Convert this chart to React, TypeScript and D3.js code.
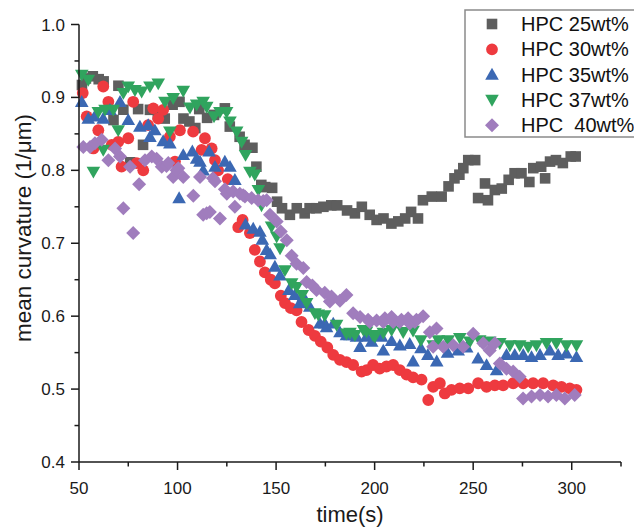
import React from "react";
import * as d3 from "d3";

type P = [number, number];

const hpc25: P[] = [
  [51.5,.917],[53.5,.926],[57,.929],[60,.925],[62.5,.922],[67.5,.869],[70,.916],[72.5,.883],[76,.811],[80,.884],
  [82.5,.835],[86,.883],[90,.876],[93.5,.871],[97.5,.890],[101,.894],[103,.871],[106,.867],[109,.858],[111,.884],
  [115,.872],[118.5,.876],[124,.885],[126.5,.860],[131.5,.846],[134,.835],[138,.831],[140,.805],[142.5,.780],[144.5,.777],
  [148,.776],[150.5,.757],[153,.748],[157,.739],[160.5,.748],[164.5,.741],[167,.748],[170.5,.748],[174,.750],[178,.752],
  [181,.752],[186,.745],[190,.741],[193.5,.750],[197.5,.739],[201,.732],[204.5,.734],[208.5,.727],[212,.730],[215.5,.734],
  [218.5,.743],[222,.734],[224.5,.759],[229,.764],[234,.764],[237.5,.778],[240.5,.789],[243,.794],[245,.803],[247.5,.814],
  [251,.814],[252.5,.762],[256,.782],[257.5,.759],[261,.773],[264.5,.775],[268,.787],[271,.796],[274.5,.796],[278.5,.784],
  [280.5,.803],[284.5,.805],[286.5,.789],[289,.812],[292,.814],[295.5,.810],[299.5,.819],[302,.819],
];

const hpc30: P[] = [
  [51.9,.906],[53.9,.874],[57.3,.830],[59.8,.855],[62.3,.915],[64.9,.894],[66.6,.835],[69.9,.839],[71.6,.805],[75,.844],
  [77.5,.894],[79.3,.810],[82.6,.800],[85.1,.862],[87.7,.885],[90.2,.871],[92.7,.883],[96.1,.846],[98.7,.812],[101.2,.855],
  [107.9,.853],[112.2,.828],[113.9,.844],[117.3,.830],[119,.814],[120.6,.800],[125.5,.788],[130.8,.722],[133,.732],[136.7,.714],
  [139.2,.691],[141.8,.675],[144.3,.660],[147.3,.650],[149.4,.645],[152.4,.628],[154.5,.618],[157.5,.611],[160.4,.608],[162.9,.592],
  [166.5,.581],[169.7,.573],[172.7,.565],[176,.557],[179,.547],[182.4,.540],[185.7,.537],[189.1,.533],[193.4,.524],[195.9,.526],
  [199.2,.533],[202.6,.528],[206,.531],[209.4,.533],[212.8,.526],[216.2,.520],[219.5,.516],[223.8,.513],[227.2,.485],[229.7,.503],
  [233.1,.508],[235.6,.494],[239,.499],[243.2,.501],[247.5,.501],[252.5,.508],[256.8,.503],[261,.505],[265.2,.505],[270.3,.508],
  [275.4,.508],[280.4,.508],[285.5,.508],[290.6,.505],[294.8,.503],[299,.501],[302.4,.499],
];

const hpc35: P[] = [
  [51.4,.894],[54.7,.871],[58,.874],[62.3,.871],[65.7,.883],[70.8,.894],[75,.869],[80.9,.860],[85.1,.862],[86,.846],
  [88.5,.855],[92.7,.840],[96.1,.837],[100.8,.762],[102.9,.821],[107.5,.826],[109.7,.816],[111.4,.812],[113,.800],[116,.826],
  [119,.805],[124,.812],[126.6,.805],[129.1,.787],[134.5,.726],[138.4,.720],[141.8,.716],[143,.705],[145.2,.691],[147,.685],
  [149.4,.668],[152,.656],[156.5,.636],[159.5,.629],[162,.618],[163.8,.627],[167.1,.613],[172.2,.590],[174.7,.590],[175.6,.585],
  [179,.590],[182.4,.578],[185.7,.574],[187.5,.574],[190.8,.572],[192.6,.558],[195.9,.572],[198.5,.565],[203.5,.572],[204.4,.553],
  [208.6,.566],[212.8,.560],[217.8,.562],[219.5,.538],[223.5,.556],[227,.547],[231.5,.538],[237,.550],[242.4,.553],[246.7,.557],
  [252.5,.542],[256.8,.533],[261.9,.526],[266.9,.547],[271.1,.547],[275.4,.547],[279.6,.544],[283.9,.547],[288.9,.553],[293.1,.547],
  [297.3,.549],[302.4,.544],
];

const hpc37: P[] = [
  [51.4,.931],[54.7,.924],[57.3,.798],[59.8,.880],[62.3,.828],[63.2,.883],[67.4,.883],[69.9,.855],[72.5,.906],[75,.915],
  [78.4,.910],[81.8,.908],[86,.915],[90.2,.919],[93.6,.894],[96.1,.853],[97.8,.899],[102.9,.909],[106.3,.886],[109.7,.890],
  [113,.894],[114.8,.887],[118.5,.874],[121.5,.880],[124.9,.880],[126.6,.867],[130,.853],[132.5,.839],[134.5,.821],[136.7,.798],
  [139.2,.794],[141,.773],[142.6,.752],[147.7,.723],[150.3,.709],[152,.693],[154.5,.663],[157.9,.645],[160.4,.640],[163.3,.629],
  [165.5,.618],[169.7,.604],[171.4,.602],[174.7,.601],[180.7,.588],[185.7,.576],[187.5,.577],[190,.574],[194.3,.581],[195.9,.579],
  [199.2,.574],[200.1,.572],[204.4,.577],[208.6,.581],[214.5,.578],[219.5,.580],[223.5,.567],[229.7,.560],[232.3,.567],[237.3,.567],
  [243.2,.570],[248.3,.565],[253.3,.567],[258.4,.565],[263.5,.563],[268.6,.560],[273.6,.560],[277.9,.558],[282.1,.560],[287.2,.563],
  [292.2,.563],[297.3,.560],[302.4,.560],
];

const hpc40: P[] = [
  [52.2,.832],[55.6,.832],[58.1,.837],[61.5,.842],[64.9,.814],[68.3,.830],[70.8,.819],[72.5,.748],[75.9,.805],[77.5,.714],
  [80.5,.781],[83.5,.814],[86.9,.819],[89.4,.816],[92,.805],[94.4,.806],[95.3,.810],[97.8,.791],[99.5,.800],[100.4,.803],
  [102.9,.791],[108,.765],[111.4,.791],[113,.739],[114.8,.741],[116.4,.743],[118,.789],[119,.785],[121.5,.734],[124,.774],
  [125,.768],[128.2,.771],[129.1,.750],[131.6,.768],[133.3,.766],[134.2,.764],[137.6,.762],[140.9,.759],[143.5,.758],[145.2,.759],
  [146.9,.739],[150.3,.730],[152.4,.716],[155.4,.704],[157.9,.683],[160.4,.672],[163.8,.666],[165.5,.647],[168.4,.642],[170.5,.636],
  [174.7,.632],[177.3,.620],[178.1,.627],[182.4,.621],[185.7,.629],[189.1,.604],[192.6,.599],[196.7,.595],[197.6,.592],[201,.594],
  [204.4,.592],[205.2,.597],[208.6,.599],[209.4,.592],[212.8,.592],[213.6,.595],[217,.597],[217.8,.590],[220.4,.592],[221.2,.595],
  [224.6,.600],[228,.578],[229.7,.558],[231.4,.583],[234.8,.558],[239.9,.560],[244.9,.558],[250,.576],[255.1,.563],[258.4,.553],
  [261,.563],[263.5,.535],[266.9,.528],[270.3,.524],[273.6,.517],[275.3,.487],[279.6,.490],[283.9,.492],[288,.490],[292.2,.492],
  [296.5,.487],[301.5,.492],
];

const seriesNames = ["HPC 25wt%", "HPC 30wt%", "HPC 35wt%", "HPC 37wt%", "HPC\u00a0 40wt%"];
const seriesData = [hpc25, hpc30, hpc35, hpc37, hpc40];
const seriesColors = ["#5e5e5e", "#ee3a3f", "#3b68b3", "#30a45e", "#a07dbd"];
const seriesShapes = ["square", "circle", "triangle", "triangleDown", "diamond"];

const xMajor = [50, 100, 150, 200, 250, 300];
const xMinor = [75, 125, 175, 225, 275, 325];
const yMajor = [0.4, 0.5, 0.6, 0.7, 0.8, 0.9, 1.0];
const yMinor = [0.45, 0.55, 0.65, 0.75, 0.85, 0.95];

const FONT = "'Liberation Sans', Arial, Helvetica, sans-serif";

function markerPath(shape: string, cx: number, cy: number): string {
  switch (shape) {
    case "square": {
      const h = 5.3;
      return `M${cx - h},${cy - h}h${2 * h}v${2 * h}h${-2 * h}Z`;
    }
    case "circle": {
      const r = 5.9;
      return `M${cx - r},${cy}a${r},${r} 0 1,0 ${2 * r},0a${r},${r} 0 1,0 ${-2 * r},0Z`;
    }
    case "triangle": {
      const s = 6.8;
      return `M${cx},${cy - s}L${cx + s},${cy + s * 0.75}L${cx - s},${cy + s * 0.75}Z`;
    }
    case "triangleDown": {
      const s = 6.8;
      return `M${cx},${cy + s}L${cx + s},${cy - s * 0.75}L${cx - s},${cy - s * 0.75}Z`;
    }
    default: {
      const s = 7;
      return `M${cx},${cy - s}L${cx + s},${cy}L${cx},${cy + s}L${cx - s},${cy}Z`;
    }
  }
}

export default function App() {
  const x = d3.scaleLinear().domain([50, 325]).range([79, 621]);
  const y = d3.scaleLinear().domain([0.4, 1.0]).range([462, 24.5]);
  const axisColor = "#1a1a1a";

  return (
    <svg
      width={634}
      height={529}
      style={{ position: "absolute", left: 0, top: 0, background: "#fff" }}
      fontFamily={FONT}
    >
      <rect x={0} y={0} width={634} height={529} fill="#fff" />
      {seriesData.map((data, si) => (
        <g key={si} fill={seriesColors[si]}>
          {data.map((d, i) => (
            <path key={i} d={markerPath(seriesShapes[si], x(d[0]), y(d[1]))} />
          ))}
        </g>
      ))}
      <g stroke={axisColor} strokeWidth={1.5} fill="none">
        <line x1={x(50)} x2={x(325)} y1={y(0.4)} y2={y(0.4)} />
        <line x1={x(50)} x2={x(50)} y1={y(0.4)} y2={y(1.0)} />
        {xMajor.map((t) => (
          <line key={"xm" + t} x1={x(t)} x2={x(t)} y1={y(0.4)} y2={y(0.4) + 8} />
        ))}
        {xMinor.map((t) => (
          <line key={"xn" + t} x1={x(t)} x2={x(t)} y1={y(0.4)} y2={y(0.4) + 4.5} />
        ))}
        {yMajor.map((t) => (
          <line key={"ym" + t} x1={x(50) - 8} x2={x(50)} y1={y(t)} y2={y(t)} />
        ))}
        {yMinor.map((t) => (
          <line key={"yn" + t} x1={x(50) - 4.5} x2={x(50)} y1={y(t)} y2={y(t)} />
        ))}
      </g>
      <g fill={axisColor} fontSize={17}>
        {xMajor.map((t) => (
          <text key={"xl" + t} x={x(t)} y={y(0.4) + 32} textAnchor="middle">
            {t}
          </text>
        ))}
        {yMajor.map((t) => (
          <text key={"yl" + t} x={x(50) - 14} y={y(t) + 6} textAnchor="end">
            {t.toFixed(1)}
          </text>
        ))}
      </g>
      <text x={x(187.5)} y={522} textAnchor="middle" fontSize={22} fill={axisColor}>
        time(s)
      </text>
      <text
        transform={`translate(31,228) rotate(-90)`}
        textAnchor="middle"
        fontSize={22.5}
        fill={axisColor}
      >
        mean curvature (1/μm)
      </text>
      <rect x={465} y={10} width={180} height={127} fill="#fff" stroke="#8a8a8a" strokeWidth={1.5} />
      {seriesNames.map((name, i) => {
        const cy = 24 + i * 25.3;
        return (
          <g key={name}>
            <path d={markerPath(seriesShapes[i], 492, cy)} fill={seriesColors[i]} />
            <text x={521} y={cy + 7} fontSize={20} fill="#111">
              {name}
            </text>
          </g>
        );
      })}
    </svg>
  );
}
